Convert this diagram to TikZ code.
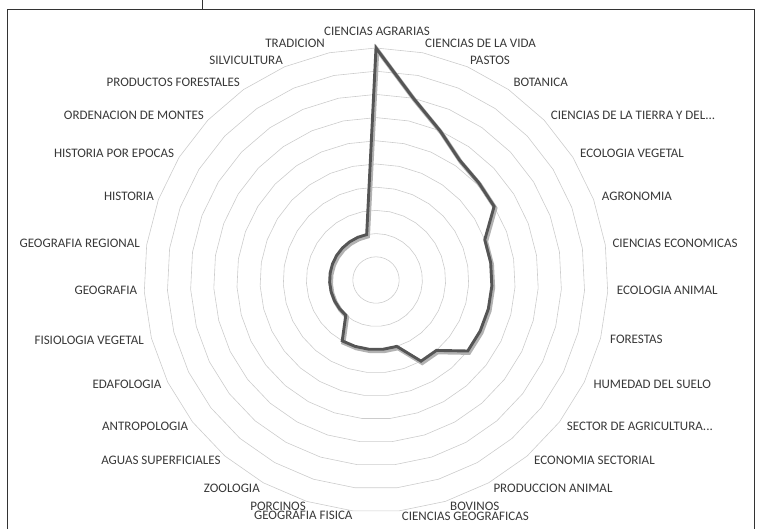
\documentclass[tikz,border=0pt]{standalone}
\usepackage{fontspec}
\setmainfont{Carlito}
\usepackage{xcolor}
\definecolor{ringgray}{HTML}{CCCCCC}
\definecolor{seriegray}{HTML}{555555}
\definecolor{labelgray}{HTML}{383838}
\definecolor{framegray}{HTML}{333333}

\begin{document}
\begin{tikzpicture}[x=1pt,y=1pt]

		\tikzset{ring/.style = {draw=ringgray, line width=0.6pt}}
		\tikzset{serie/.style = {draw=seriegray, line width=2.9pt, line join=miter}}
		\tikzset{serieshadow/.style = {draw=black!30, line width=4.2pt, line join=miter, transform canvas={xshift=1.2pt,yshift=-1.8pt}}}
		\tikzset{lbl/.style = {text=labelgray, inner sep=0pt, font=\fontsize{13}{15}\selectfont}}
		\tikzset{frame/.style = {draw=framegray, line width=0.9pt}}
		\useasboundingbox (-376,-249) rectangle (383,280);
		%frame
		\draw[frame] (-368.7,-249) -- (-368.7,270.7) -- (378,270.7) -- (378,-249);
		\draw[frame] (-174,280) -- (-174,270.7);
		%rings
		\foreach \r in {1,...,10}
			\draw[ring] ({90}:{\r*23.2}) \foreach \k in {1,...,30} { -- ({90-\k*360/31}:{\r*23.2}) } -- cycle;
		%data points
		\foreach \v [count=\k from 0] in {10,8,7,6.3,6.1,6,5,5,5,5,5,5,4,4,3,3,3,3,3,2,2,2,2,2,2,2,2,2,2,2,2}
			\coordinate (p\k) at ({90-\k*360/31}:{\v*23.2});
		%series
		\draw[serieshadow] (p0) -- (p1) -- (p2) -- (p3) -- (p4) -- (p5) -- (p6) -- (p7) -- (p8) -- (p9) -- (p10)
			-- (p11) -- (p12) -- (p13) -- (p14) -- (p15) -- (p16) -- (p17) -- (p18) -- (p19) -- (p20)
			-- (p21) -- (p22) -- (p23) -- (p24) -- (p25) -- (p26) -- (p27) -- (p28) -- (p29) -- (p30) -- cycle;
		\draw[serie] (p0) -- (p1) -- (p2) -- (p3) -- (p4) -- (p5) -- (p6) -- (p7) -- (p8) -- (p9) -- (p10)
			-- (p11) -- (p12) -- (p13) -- (p14) -- (p15) -- (p16) -- (p17) -- (p18) -- (p19) -- (p20)
			-- (p21) -- (p22) -- (p23) -- (p24) -- (p25) -- (p26) -- (p27) -- (p28) -- (p29) -- (p30) -- cycle;
		%labels
		\node[lbl] (agrarias) at (1,248.3) {CIENCIAS AGRARIAS};
		\node[lbl,anchor=west] (vida) at (49,236.7) {CIENCIAS DE LA VIDA};
		\node[lbl,anchor=west] (pastos) at (94,220) {PASTOS};
		\node[lbl,anchor=west] (botanica) at (137.3,197.3) {BOTANICA};
		\node[lbl,anchor=west] (tierra) at (174.7,165) {CIENCIAS DE LA TIERRA Y DEL...};
		\node[lbl,anchor=west] (ecovegetal) at (204,126.7) {ECOLOGIA VEGETAL};
		\node[lbl,anchor=west] (agronomia) at (225.7,83.3) {AGRONOMIA};
		\node[lbl,anchor=west] (economicas) at (236.3,36.7) {CIENCIAS ECONOMICAS};
		\node[lbl,anchor=west] (ecoanimal) at (240.7,-10) {ECOLOGIA ANIMAL};
		\node[lbl,anchor=west] (forestas) at (234,-59.3) {FORESTAS};
		\node[lbl,anchor=west] (humedad) at (217.3,-104) {HUMEDAD DEL SUELO};
		\node[lbl,anchor=west] (sector) at (190.7,-146) {SECTOR DE AGRICULTURA...};
		\node[lbl,anchor=west] (economia) at (158,-180.7) {ECONOMIA SECTORIAL};
		\node[lbl,anchor=west] (produccion) at (117.3,-208.3) {PRODUCCION ANIMAL};
		\node[lbl,anchor=west] (bovinos) at (74,-226.7) {BOVINOS};
		\node[lbl,anchor=west] (cgeograficas) at (25.7,-236) {CIENCIAS GEOGRAFICAS};
		\node[lbl,anchor=east] (geofisica) at (-23.3,-235) {GEOGRAFIA FISICA};
		\node[lbl,anchor=east] (porcinos) at (-70,-226) {PORCINOS};
		\node[lbl,anchor=east] (zoologia) at (-116,-208.3) {ZOOLOGIA};
		\node[lbl,anchor=east] (aguas) at (-155.3,-180.7) {AGUAS SUPERFICIALES};
		\node[lbl,anchor=east] (antropologia) at (-187.7,-146) {ANTROPOLOGIA};
		\node[lbl,anchor=east] (edafologia) at (-214.3,-104) {EDAFOLOGIA};
		\node[lbl,anchor=east] (fisiologia) at (-232,-60.7) {FISIOLOGIA VEGETAL};
		\node[lbl,anchor=east] (geografia) at (-238.7,-10) {GEOGRAFIA};
		\node[lbl,anchor=east] (georegional) at (-236,36.7) {GEOGRAFIA REGIONAL};
		\node[lbl,anchor=east] (historia) at (-222,83.3) {HISTORIA};
		\node[lbl,anchor=east] (epocas) at (-201.7,126.7) {HISTORIA POR EPOCAS};
		\node[lbl,anchor=east] (ordenacion) at (-172,165) {ORDENACION DE MONTES};
		\node[lbl,anchor=east] (productos) at (-136,197.3) {PRODUCTOS FORESTALES};
		\node[lbl,anchor=east] (silvicultura) at (-93,220) {SILVICULTURA};
		\node[lbl,anchor=east] (tradicion) at (-51,236.7) {TRADICION};
		\end{tikzpicture}
\end{document}
